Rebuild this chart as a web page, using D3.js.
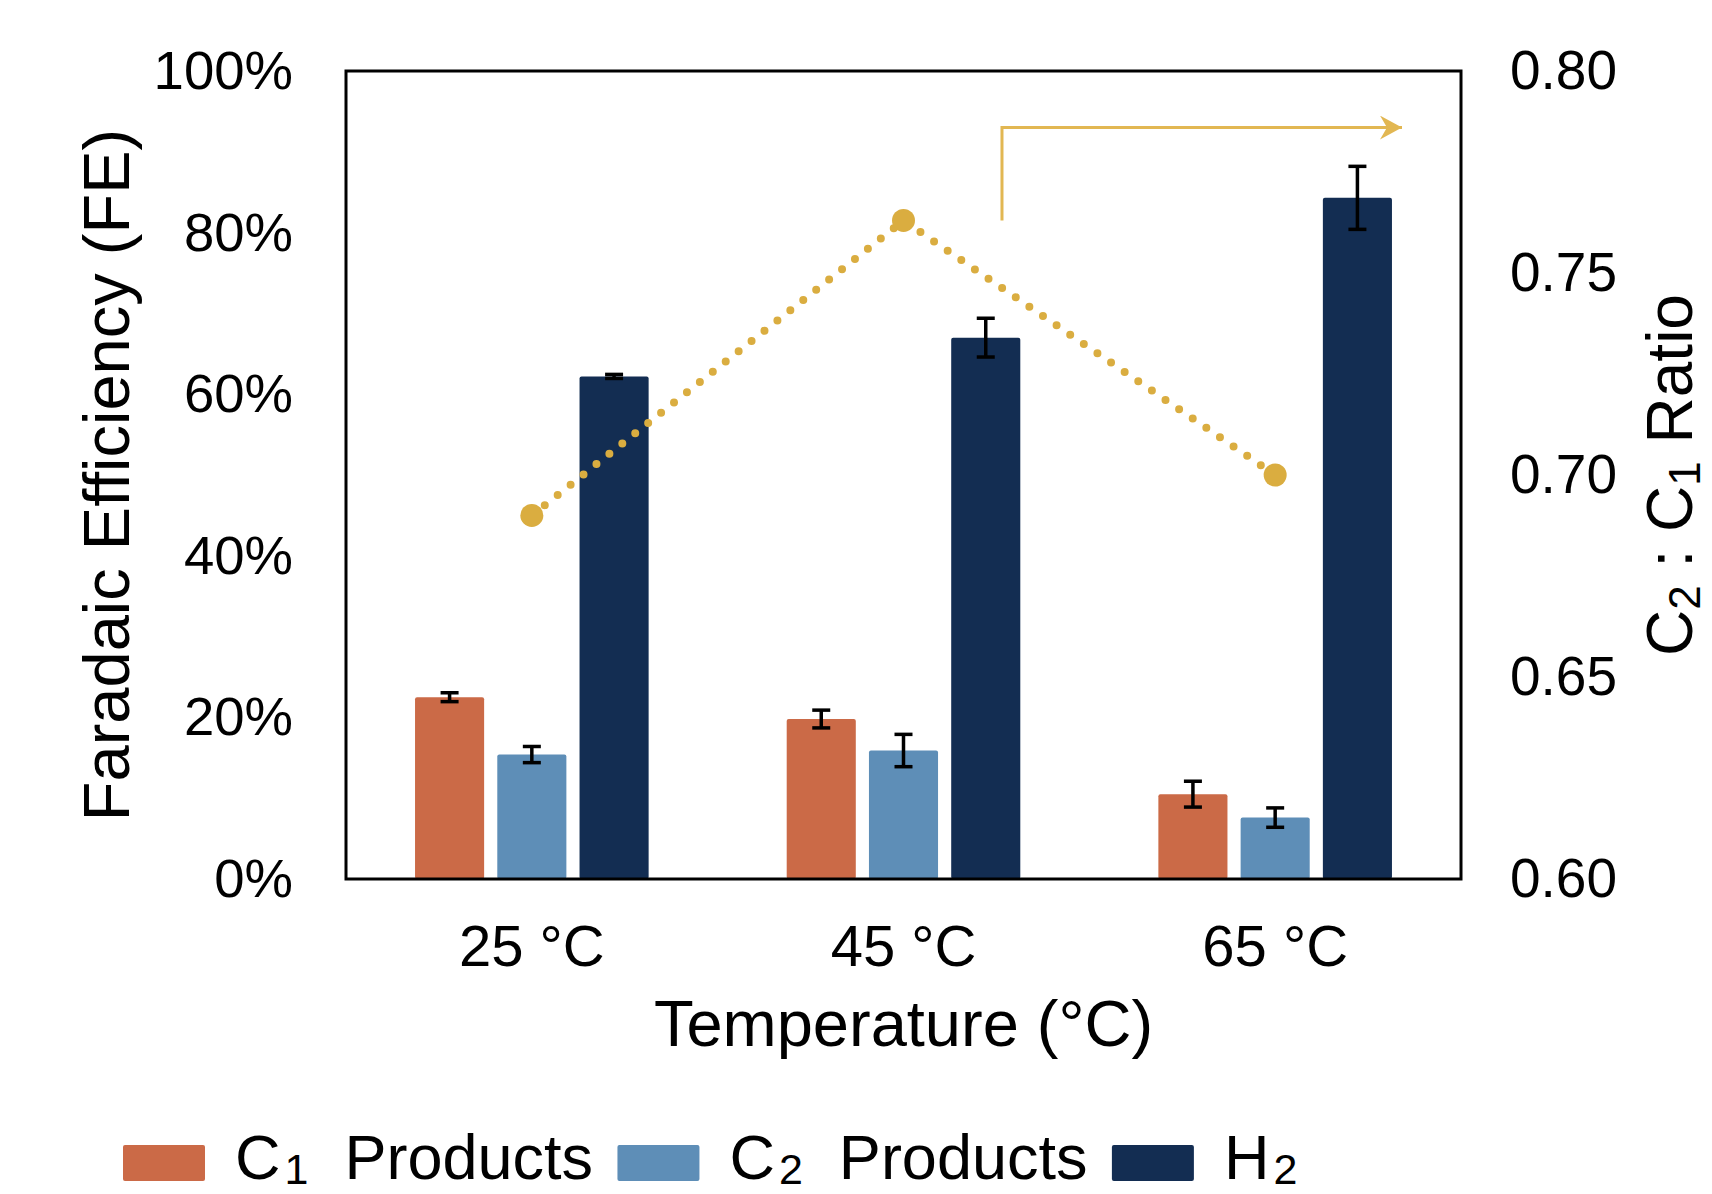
<!DOCTYPE html>
<html>
<head>
<meta charset="utf-8">
<script src="https://cdn.jsdelivr.net/npm/d3@7"></script>
<style>
  html, body { margin: 0; padding: 0; background: #ffffff; }
  svg { display: block; font-family: "Liberation Sans", Arial, Helvetica, sans-serif; }
</style>
</head>
<body>
<svg id="chart" width="1712" height="1194"></svg>
<script>
// Faradaic efficiency by product vs. temperature, with the C2:C1 ratio on a second axis
const categories = ["25 °C", "45 °C", "65 °C"];
const seriesKeys = ["c1", "c2", "h2"];

const c1FE = [22.5, 19.8, 10.5];
const c1Err = [0.55, 1.1, 1.6];
const c2FE = [15.4, 15.9, 7.6];
const c2Err = [1.0, 2.0, 1.2];
const h2FE = [62.2, 67.0, 84.3];
const h2Err = [0.25, 2.4, 3.9];

const ratio = [0.690, 0.763, 0.700];

const feTicks = [0, 20, 40, 60, 80, 100];
const ratioTicks = [0.60, 0.65, 0.70, 0.75, 0.80];

const colors = { c1: "#CB6A47", c2: "#5E8EB7", h2: "#132D52" };
const gold = "#DAAD40";
const arrowGold = "#E2B752";

const values = { c1: c1FE, c2: c2FE, h2: h2FE };
const errors = { c1: c1Err, c2: c2Err, h2: h2Err };

const svg = d3.select("#chart");
const margin = { left: 346, right: 1712 - 1461, top: 71, bottom: 1194 - 879 };
const width = 1712 - margin.left - margin.right;
const height = 1194 - margin.top - margin.bottom;

const g = svg.append("g").attr("transform", `translate(${margin.left},${margin.top})`);

const x0 = d3.scaleBand().domain(categories).range([0, width])
  .paddingInner(0.3715).paddingOuter(0.3715 / 2);
const x1 = d3.scaleBand().domain(seriesKeys).range([0, x0.bandwidth()])
  .paddingInner(0.16).paddingOuter(0);
const y = d3.scaleLinear().domain([0, 100]).range([height, 0]);
const yR = d3.scaleLinear().domain([0.60, 0.80]).range([height, 0]);

// Bars
const rows = categories.map((c, i) => ({ cat: c, i }));
const groups = g.selectAll("g.grp").data(rows).join("g")
  .attr("class", "grp")
  .attr("transform", d => `translate(${x0(d.cat)},0)`);

groups.selectAll("rect").data(d => seriesKeys.map(k => ({ k, v: values[k][d.i], e: errors[k][d.i] })))
  .join("rect")
  .attr("x", d => x1(d.k))
  .attr("y", d => y(d.v))
  .attr("width", x1.bandwidth())
  .attr("height", d => y(0) - y(d.v))
  .attr("rx", 2)
  .attr("fill", d => colors[d.k]);

// Error bars
const capHalf = 9;
const eb = groups.selectAll("g.err").data(d => seriesKeys.map(k => ({ k, v: values[k][d.i], e: errors[k][d.i] })))
  .join("g").attr("class", "err")
  .attr("stroke", "#000").attr("stroke-width", 3.5).attr("fill", "none");
eb.append("line")
  .attr("x1", d => x1(d.k) + x1.bandwidth() / 2)
  .attr("x2", d => x1(d.k) + x1.bandwidth() / 2)
  .attr("y1", d => y(d.v - d.e)).attr("y2", d => y(d.v + d.e));
eb.append("line")
  .attr("x1", d => x1(d.k) + x1.bandwidth() / 2 - capHalf)
  .attr("x2", d => x1(d.k) + x1.bandwidth() / 2 + capHalf)
  .attr("y1", d => y(d.v + d.e)).attr("y2", d => y(d.v + d.e));
eb.append("line")
  .attr("x1", d => x1(d.k) + x1.bandwidth() / 2 - capHalf)
  .attr("x2", d => x1(d.k) + x1.bandwidth() / 2 + capHalf)
  .attr("y1", d => y(d.v - d.e)).attr("y2", d => y(d.v - d.e));

// Frame
g.append("rect").attr("x", 0).attr("y", 0).attr("width", width).attr("height", height)
  .attr("fill", "none").attr("stroke", "#000").attr("stroke-width", 3);

// Ratio line (dotted) with markers
const cx = c => x0(c) + x0.bandwidth() / 2;
const ratioPts = categories.map((c, i) => [cx(c), yR(ratio[i])]);
g.append("path")
  .attr("d", d3.line()(ratioPts))
  .attr("fill", "none").attr("stroke", gold).attr("stroke-width", 8)
  .attr("stroke-linecap", "round").attr("stroke-dasharray", "0 16.5");
g.selectAll("circle.pt").data(ratioPts).join("circle").attr("class", "pt")
  .attr("cx", d => d[0]).attr("cy", d => d[1]).attr("r", 11.5).attr("fill", gold);

// Arrow pointing to the right-hand axis
const arrowX = cx(categories[1]) + 0.265 * x0.step();
const arrowTop = yR(0.786);
const arrowTipX = width - 59;
svg.append("defs").append("marker")
  .attr("id", "arrowhead").attr("viewBox", "0 0 24 24")
  .attr("refX", 22).attr("refY", 12).attr("markerWidth", 24).attr("markerHeight", 24)
  .attr("markerUnits", "userSpaceOnUse").attr("orient", "auto")
  .append("path").attr("d", "M0,0 L22,12 L0,24 L7,12 Z").attr("fill", arrowGold);
g.append("path")
  .attr("d", `M${arrowX},${yR(ratio[1])} L${arrowX},${arrowTop} L${arrowTipX},${arrowTop}`)
  .attr("fill", "none").attr("stroke", arrowGold).attr("stroke-width", 3)
  .attr("marker-end", "url(#arrowhead)");

// Axes
const yAxis = g.append("g")
  .call(d3.axisLeft(y).tickValues(feTicks).tickFormat(d => d + "%").tickSize(0).tickPadding(53));
yAxis.select(".domain").remove();
yAxis.selectAll("text").attr("font-size", 54.5).attr("font-family", null).attr("fill", "#000");

const yRAxis = g.append("g").attr("transform", `translate(${width},0)`)
  .call(d3.axisRight(yR).tickValues(ratioTicks).tickFormat(d3.format(".2f")).tickSize(0).tickPadding(49));
yRAxis.select(".domain").remove();
yRAxis.selectAll("text").attr("font-size", 55).attr("font-family", null).attr("fill", "#000");

const xAxis = g.append("g").attr("transform", `translate(0,${height})`)
  .call(d3.axisBottom(x0).tickSize(0).tickPadding(46));
xAxis.select(".domain").remove();
xAxis.selectAll("text").attr("font-size", 58).attr("font-family", null).attr("fill", "#000");

// Axis titles
svg.append("text")
  .attr("transform", `translate(129,${margin.top + height / 2}) rotate(-90)`)
  .attr("text-anchor", "middle").attr("font-size", 65).attr("fill", "#000")
  .text("Faradaic Efficiency (FE)");

svg.append("text")
  .attr("x", margin.left + width / 2).attr("y", 1046)
  .attr("text-anchor", "middle").attr("font-size", 65).attr("fill", "#000")
  .text("Temperature (°C)");

const rTitle = svg.append("text")
  .attr("transform", `translate(1692,${margin.top + height / 2}) rotate(-90)`)
  .attr("text-anchor", "middle").attr("font-size", 64).attr("fill", "#000");
rTitle.append("tspan").text("C");
rTitle.append("tspan").attr("font-size", 44).attr("dy", 8).text("2");
rTitle.append("tspan").attr("dy", -8).text(" : C");
rTitle.append("tspan").attr("font-size", 44).attr("dy", 8).text("1");
rTitle.append("tspan").attr("dy", -8).text(" Ratio");

// Legend
const legendItems = [
  { k: "c1", main: "C", sub: "1", rest: "Products" },
  { k: "c2", main: "C", sub: "2", rest: "Products" },
  { k: "h2", main: "H", sub: "2", rest: "" }
];
const legend = svg.append("g");
let lx = 123;
legendItems.forEach(item => {
  legend.append("rect").attr("x", lx).attr("y", 1145).attr("width", 82).attr("height", 36)
    .attr("rx", 2).attr("fill", colors[item.k]);
  const t = legend.append("text").attr("x", lx + 112).attr("y", 1179)
    .attr("font-size", 63).attr("fill", "#000");
  t.append("tspan").text(item.main);
  t.append("tspan").attr("font-size", 43).attr("dx", 4).attr("dy", 5).text(item.sub);
  if (item.rest) t.append("tspan").attr("dx", 36).attr("dy", -5).text(item.rest);
  const len = t.node().getComputedTextLength();
  lx = lx + 112 + len + 40 + 24.4;
});
</script>
</body>
</html>
